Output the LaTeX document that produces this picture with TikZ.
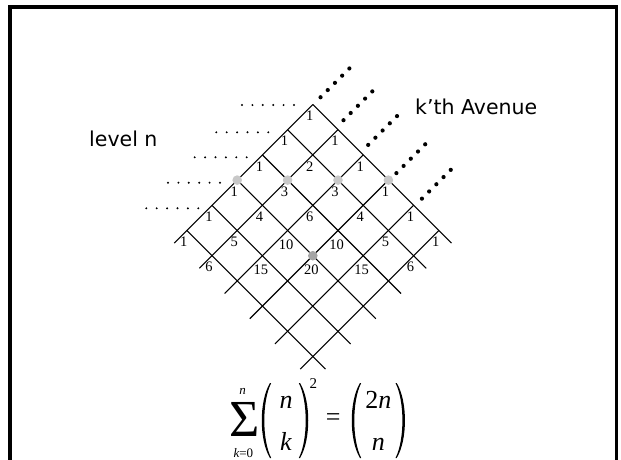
\documentclass[tikz,border=0pt]{standalone}
\usepackage{fontspec}
\setmainfont{Liberation Serif}
\newfontfamily\sansf{DejaVu Sans}
\begin{document}
\begin{tikzpicture}[x=1pt,y=-1pt,
  gridline/.style={line width=1.1pt, black},
  lab/.style={font=\fontsize{14.5}{14.5}\selectfont, inner sep=0pt},
  lightdot/.style={fill={rgb,255:red,200;green,200;blue,200}},
  darkdot/.style={fill={rgb,255:red,165;green,165;blue,165}},
  sansl/.style={font=\sansf\fontsize{20.5}{20.5}\selectfont, inner sep=0pt, anchor=base west},
  eq/.style={font=\fontsize{26}{26}\selectfont, inner sep=0pt},
  eqs/.style={font=\fontsize{13}{13}\selectfont, inner sep=0pt},
  lpar/.pic={\fill (0,0) .. controls (-11,18) and (-11,57) .. (0,75) -- (1.2,75) .. controls (-8,57) and (-8,18) .. (1.2,0) -- cycle;}
]
\useasboundingbox (0,0) rectangle (621,459);
\fill[white] (0,0) rectangle (621,459);
% frame
\coordinate (fbl) at (10,463);
\coordinate (ftl) at (10,7);
\coordinate (ftr) at (616.5,7);
\coordinate (fbr) at (616.5,463);
\draw[line width=3.5pt] (fbl) -- (ftl) -- (ftr) -- (fbr);
% lattice
\def\ax{312.8}\def\ay{104.5}\def\s{25.2}
\foreach \i in {0,...,5}{\foreach \j in {0,...,5}{
  \coordinate (v\i\j) at ({\ax+\s*(\j-\i)},{\ay+\s*(\i+\j)});
}}
\foreach \k in {0,...,5}{
  \coordinate (ej\k) at ({\ax+\s*(\k-5.5)},{\ay+\s*(5.5+\k)});
  \coordinate (ei\k) at ({\ax+\s*(5.5-\k)},{\ay+\s*(\k+5.5)});
  \draw[gridline] (v0\k) -- (ej\k);
  \draw[gridline] (v\k0) -- (ei\k);
}
% highlighted points
\foreach \p in {v30,v21,v12,v03}{\fill[lightdot] (\p) circle (4.8);}
\fill[darkdot] (v33) circle (4.8);
% labels
\foreach \i/\j/\t in {0/0/1, 1/0/1, 0/1/1, 2/0/1, 1/1/2, 0/2/1, 3/0/1, 2/1/3, 1/2/3, 0/3/1,
  4/0/1, 3/1/4, 2/2/6, 1/3/4, 0/4/1, 5/0/1, 4/1/5, 1/4/5, 0/5/1, 5/1/6, 1/5/6}{
  \node[lab] (l\i\j) at ([shift={(-3,11.5)}]v\i\j) {\t};
}
\foreach \i/\j/\t in {3/2/10, 2/3/10, 4/2/15, 3/3/20, 2/4/15}{
  \node[lab] (l\i\j) at ([shift={(-1.5,14.5)}]v\i\j) {\t};
}
% level rows (left)
\coordinate (r0) at (294,105);
\coordinate (r1) at (268.3,132.3);
\coordinate (r2) at (246.7,157.3);
\coordinate (r3) at (220,182.7);
\coordinate (r4) at (198.3,208.3);
\foreach \n in {0,...,4}{\foreach \m in {0,...,5}{
  \fill ([shift={({-10.4*\m},0)}]r\n) circle (1.1);
}}
% avenue extensions (right)
\foreach \j/\d in {0/0.5,1/-4,2/-5,3/1,4/1.7}{\foreach \t in {7.5,14.7,21.9,29.1,36.3}{
  \fill ([shift={({\t+\d/2},{-\t+\d/2})}]v0\j) circle (2.1);
}}
% texts
\node[sansl] (kav) at (415,114) {k’th Avenue};
\node[sansl] (lvl) at (89,146.7) {level n};
% equation
\node[font=\fontsize{52}{52}\selectfont, inner sep=0pt, anchor=base] (sig) at (244.5,436.7) {Σ};
\node[eqs, anchor=base] (sn) at (242.7,394.5) {\itshape n};
\node[eqs, anchor=base] (sk) at (243.3,457.5) {\itshape k\upshape =0};
\pic at (270,383) {lpar};
\pic[xscale=-1] at (300,383) {lpar};
\node[eq, anchor=base] (bn1) at (286,408) {\itshape n};
\node[eq, anchor=base] (bk1) at (286,450) {\itshape k};
\node[font=\fontsize{15}{15}\selectfont, inner sep=0pt, anchor=base] (sq) at (313.3,388.5) {2};
\node[eq] (equ) at (333.3,420) {=};
\pic at (360,383) {lpar};
\pic[xscale=-1] at (396.7,383) {lpar};
\node[eq, anchor=base] (bn2) at (378.3,408) {2\itshape n};
\node[eq, anchor=base] (bk2) at (378.3,450) {\itshape n};
\end{tikzpicture}
\end{document}
